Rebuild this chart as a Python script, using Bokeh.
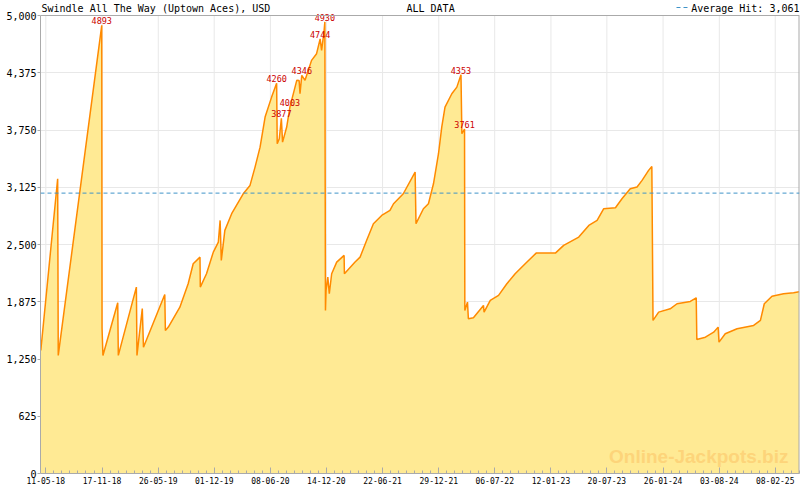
import numpy as np
import pandas as pd
from bokeh.plotting import figure
from bokeh.models import (FixedTicker, DatetimeTickFormatter, NumeralTickFormatter,
                          Span, Label, Range1d)
from bokeh.core.properties import value
from bokeh.embed import file_html
from bokeh.resources import INLINE

# ---------------- data ----------------
base_date = "2018-04-24"
day = [0, 57, 59, 206, 207, 210, 260, 262, 323, 325, 343, 347, 419, 421, 431, 470, 498, 515,
       538, 539, 560, 583, 600, 606, 610, 622, 645, 684, 707, 724, 741, 758, 780, 797, 799,
       806, 813, 817, 831, 842, 865, 873, 876, 882, 893, 915, 932, 944, 949, 957, 960, 962,
       964, 970, 975, 983, 1000, 1025, 1026, 1062, 1079, 1101, 1124, 1152, 1180, 1192, 1225,
       1265, 1268, 1293, 1310, 1327, 1344, 1355, 1366, 1389, 1406, 1420, 1423, 1432, 1433,
       1442, 1445, 1462, 1496, 1498, 1519, 1547, 1575, 1603, 1643, 1674, 1739, 1767, 1818,
       1852, 1880, 1902, 1942, 1964, 1992, 2015, 2032, 2054, 2065, 2069, 2088, 2127, 2150,
       2195, 2215, 2217, 2246, 2274, 2289, 2292, 2313, 2353, 2409, 2432, 2445, 2471, 2510,
       2544, 2563]
hit = [1343, 3218, 1289, 4893, 1583, 1289, 1864, 1289, 2035, 1289, 1800, 1379, 1955, 1562,
       1598, 1816, 2071, 2290, 2362, 2035, 2181, 2417, 2526, 2763, 2326, 2654, 2836, 3054,
       3145, 3345, 3563, 3891, 4109, 4260, 3600, 3655, 3877, 3618, 3782, 4003, 4292, 4290,
       4146, 4346, 4292, 4510, 4583, 4744, 4620, 4819, 4930, 1780, 1998, 2144, 1962, 2181,
       2308, 2381, 2181, 2308, 2362, 2544, 2727, 2817, 2872, 2945, 3054, 3290, 2727, 2890,
       2945, 3163, 3491, 3782, 4000, 4146, 4218, 4353, 3709, 3761, 1780, 1871, 1689, 1700,
       1835, 1762, 1889, 1944, 2071, 2181, 2308, 2406, 2406, 2490, 2581, 2708, 2763, 2890,
       2901, 3000, 3109, 3127, 3200, 3309, 3352, 1671, 1762, 1798, 1853, 1878, 1918, 1463,
       1488, 1543, 1598, 1434, 1525, 1580, 1616, 1671, 1853, 1936, 1962, 1973, 1985]

peak_day = [206, 797, 813, 842, 882, 944, 960, 1420, 1432]
peak_val = [4893, 4260, 3877, 4003, 4346, 4744, 4930, 4353, 3761]

y_ticks = [0, 625, 1250, 1875, 2500, 3125, 3750, 4375, 5000]
x_tick_dates = ["2018-05-11", "2018-11-17", "2019-05-26", "2019-12-01", "2020-06-08",
                "2020-12-14", "2021-06-22", "2021-12-29", "2022-07-06", "2023-01-12",
                "2023-07-20", "2024-01-26", "2024-08-03", "2025-02-08"]
average_hit = 3061
y_max = 5000
x_start = "2018-04-23"
x_end = "2025-05-01"

title_text = "Swindle All The Way (Uptown Aces), USD"
center_text = "ALL DATA"
avg_text = "Average Hit: 3,061"
watermark = "Online-Jackpots.biz"

# ---------------- layout constants (pixels) ----------------
W, H = 800, 490
FRAME_TOP = 15        # y pixel where the plotted area (value y_max) starts
FRAME_BOTTOM = 473    # y pixel of value 0
LEFT, RIGHT = 40, 1

# ---------------- build ----------------
base = pd.Timestamp(base_date)
dates = base + pd.to_timedelta(day, unit="D")
pdates = base + pd.to_timedelta(peak_day, unit="D")


def ms(ts):
    return float(pd.Timestamp(ts).value // 10**6)


major_ms = [ms(d) for d in x_tick_dates]
minor_ms = []
step = (major_ms[1] - major_ms[0]) / 7
for i in range(len(major_ms) - 1):
    minor_ms += np.linspace(major_ms[i], major_ms[i + 1], 8)[1:-1].tolist()
minor_ms += [major_ms[0] - step * k for k in (1, 2)]
minor_ms += [major_ms[-1] + step * k for k in (1, 2, 3)]

units_per_px = y_max / (FRAME_BOTTOM - FRAME_TOP)
y_top = y_max + FRAME_TOP * units_per_px   # header strip lives inside the frame
x0, x1 = ms(x_start), ms(x_end)
ms_per_px = (x1 - x0) / (W - LEFT - RIGHT)


def px_x(px):
    return x0 + (px - LEFT) * ms_per_px


def px_y(py):
    return (FRAME_BOTTOM - py) * units_per_px


MONO = "DejaVu Sans Mono"
GRAY = "#aaaaaa"
GRID = "#e8e8e8"
BLUE = "#3f93c8"

p = figure(width=W, height=H, x_axis_type="datetime",
           output_backend="svg", toolbar_location=None,
           x_range=Range1d(x0, x1), y_range=Range1d(0, y_top),
           min_border_left=LEFT, min_border_right=RIGHT, min_border_top=0,
           min_border_bottom=H - FRAME_BOTTOM)
p.background_fill_color = "white"
p.border_fill_color = "white"
p.outline_line_color = None

# vertical grid lines only inside the plotted area
p.xgrid.visible = False
p.segment(x0=major_ms, y0=[0] * len(major_ms), x1=major_ms, y1=[y_max] * len(major_ms),
          line_color=GRID, line_width=1, level="underlay")
p.ygrid.ticker = FixedTicker(ticks=y_ticks)
p.ygrid.grid_line_color = GRID

p.varea(x=dates, y1=0, y2=hit, fill_color="#FFEA94", fill_alpha=1.0)
p.line(x=dates, y=hit, line_color="#FF8A00", line_width=1.5)

p.add_layout(Span(location=average_hit, dimension="width", line_color=BLUE,
                  line_dash="4 3", line_width=1))

p.text(x=pdates, y=peak_val, text=[str(v) for v in peak_val],
       text_font=value(MONO), text_font_size="8.5px", text_color="#cc0000",
       text_align="center", text_baseline="bottom", y_offset=-1)

# frame border (top and right); left/bottom are the axis lines
p.add_layout(Span(location=y_max, dimension="width", line_color=GRAY, line_width=1))
p.segment(x0=[x1], y0=[0], x1=[x1], y1=[y_max], line_color=GRAY, line_width=2)

# axes
p.xaxis.ticker = FixedTicker(ticks=major_ms, minor_ticks=minor_ms)
fmt = "%d-%m-%y"
p.xaxis.formatter = DatetimeTickFormatter(days=fmt, months=fmt, years=fmt, hours=fmt,
                                          minutes=fmt, seconds=fmt, milliseconds=fmt,
                                          microseconds=fmt, minsec=fmt, hourmin=fmt)
p.xaxis.major_tick_in = 6
p.xaxis.major_tick_out = 0
p.xaxis.minor_tick_in = 3
p.xaxis.minor_tick_out = 0
p.xaxis.major_label_standoff = 3
p.xaxis.major_label_text_font = MONO
p.xaxis.major_label_text_font_size = "8px"

p.yaxis.ticker = FixedTicker(ticks=y_ticks, minor_ticks=[])
p.yaxis.formatter = NumeralTickFormatter(format="0,0")
p.yaxis.bounds = (0, y_max)
p.yaxis.major_tick_in = 0
p.yaxis.major_tick_out = 3
p.yaxis.minor_tick_in = 0
p.yaxis.minor_tick_out = 0
p.yaxis.major_label_standoff = 1
p.yaxis.major_label_text_font = MONO
p.yaxis.major_label_text_font_size = "10px"

for ax in (p.xaxis, p.yaxis):
    ax.axis_line_color = GRAY
    ax.major_tick_line_color = GRAY
    ax.minor_tick_line_color = GRAY
    ax.major_label_text_color = "black"

# header texts (inside the strip above y_max)
head_y = px_y(13)
head = dict(text_font=MONO, text_font_size="10px", text_color="black",
            text_baseline="bottom", level="overlay")
p.add_layout(Label(x=px_x(41), y=head_y, text=title_text, text_align="left", **head))
p.add_layout(Label(x=px_x(406), y=head_y, text=center_text, text_align="left", **head))
p.add_layout(Label(x=px_x(799), y=head_y, text=avg_text, text_align="right", **head))
# legend sample for the average line
p.segment(x0=[px_x(676)], y0=[px_y(7)], x1=[px_x(688)], y1=[px_y(7)],
          line_color=BLUE, line_width=1, line_dash="4 3")

p.add_layout(Label(x=px_x(788), y=px_y(466), text=watermark, text_font="Liberation Sans",
                   text_font_style="bold", text_font_size="19px", text_color="#FDD47A",
                   text_baseline="bottom", text_align="right", level="overlay"))

open("out.html", "w").write(file_html(p, INLINE))
